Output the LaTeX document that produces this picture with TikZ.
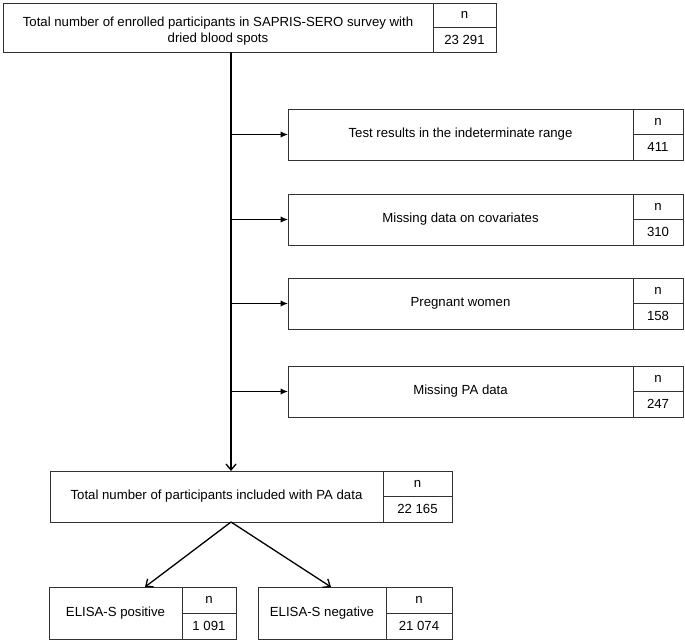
\documentclass[tikz,border=0pt]{standalone}
\usepackage{fontspec}
\setmainfont{Liberation Sans}
\usetikzlibrary{positioning, arrows.meta}

\begin{document}
\begin{tikzpicture}[x=1bp, y=-1bp,
		font=\fontsize{13.2bp}{16.5bp}\selectfont,
		mainbox/.style={rectangle, draw=black!80, line width=0.9bp, outer sep=0pt, inner sep=2bp, align=center, anchor=north west},
		ncell/.style={rectangle, draw=black!80, line width=0.9bp, outer sep=0pt, inner sep=0pt},
		flow/.style={line width=1.3bp, -{Straight Barb[length=6bp, width=10bp]}},
		branch/.style={line width=1.3bp, -{Latex[length=7.5bp, width=6.5bp]}}
		]
	\useasboundingbox (0,0) rectangle (685,642);
	\coordinate (trunk) at (231,0);

	\node[mainbox, minimum width=430bp, minimum height=49bp](enrolled) at (3,3)
		{\rule{0pt}{17bp}Total number of enrolled participants in SAPRIS-SERO survey with\\dried blood spots};
	\node[ncell, minimum width=63bp, minimum height=24.5bp, anchor=north west](enrolledn) at (enrolled.north east){n};
	\node[ncell, minimum width=63bp, minimum height=24.5bp, below=0pt of enrolledn](enrolledv){23 291};

	\node[mainbox, minimum width=345bp, minimum height=51bp](indet) at (288,109){Test results in the indeterminate range};
	\node[ncell, minimum width=50bp, minimum height=25.5bp, anchor=north west](indetn) at (indet.north east){n};
	\node[ncell, minimum width=50bp, minimum height=25.5bp, below=0pt of indetn](indetv){411};

	\node[mainbox, minimum width=345bp, minimum height=51bp](covar) at (288,194){Missing data on covariates};
	\node[ncell, minimum width=50bp, minimum height=25.5bp, anchor=north west](covarn) at (covar.north east){n};
	\node[ncell, minimum width=50bp, minimum height=25.5bp, below=0pt of covarn](covarv){310};

	\node[mainbox, minimum width=345bp, minimum height=51bp](pregnant) at (288,278){Pregnant women};
	\node[ncell, minimum width=50bp, minimum height=25.5bp, anchor=north west](pregnantn) at (pregnant.north east){n};
	\node[ncell, minimum width=50bp, minimum height=25.5bp, below=0pt of pregnantn](pregnantv){158};

	\node[mainbox, minimum width=345bp, minimum height=51bp](nopa) at (288,366){Missing PA data};
	\node[ncell, minimum width=50bp, minimum height=25.5bp, anchor=north west](nopan) at (nopa.north east){n};
	\node[ncell, minimum width=50bp, minimum height=25.5bp, below=0pt of nopan](nopav){247};

	\node[mainbox, minimum width=333bp, minimum height=51bp](included) at (50,471){Total number of participants included with PA data};
	\node[ncell, minimum width=69bp, minimum height=25.5bp, anchor=north west](includedn) at (included.north east){n};
	\node[ncell, minimum width=69bp, minimum height=25.5bp, below=0pt of includedn](includedv){22 165};

	\node[mainbox, minimum width=133bp, minimum height=52bp](positive) at (49,587){ELISA-S positive};
	\node[ncell, minimum width=54bp, minimum height=26bp, anchor=north west](positiven) at (positive.north east){n};
	\node[ncell, minimum width=54bp, minimum height=26bp, below=0pt of positiven](positivev){1 091};

	\node[mainbox, minimum width=128bp, minimum height=52bp](negative) at (258,587){ELISA-S negative};
	\node[ncell, minimum width=66bp, minimum height=26bp, anchor=north west](negativen) at (negative.north east){n};
	\node[ncell, minimum width=66bp, minimum height=26bp, below=0pt of negativen](negativev){21 074};

	\draw[flow] (trunk |- enrolled.south) -- (trunk |- included.north);
	\draw[branch] (trunk |- indet.west) -- (indet.west);
	\draw[branch] (trunk |- covar.west) -- (covar.west);
	\draw[branch] (trunk |- pregnant.west) -- (pregnant.west);
	\draw[branch] (trunk |- nopa.west) -- (nopa.west);
	\draw[flow] (trunk |- included.south) -- ([xshift=29.5bp]positive.north);
	\draw[flow] (trunk |- included.south) -- ([xshift=9bp]negative.north);
\end{tikzpicture}
\end{document}
